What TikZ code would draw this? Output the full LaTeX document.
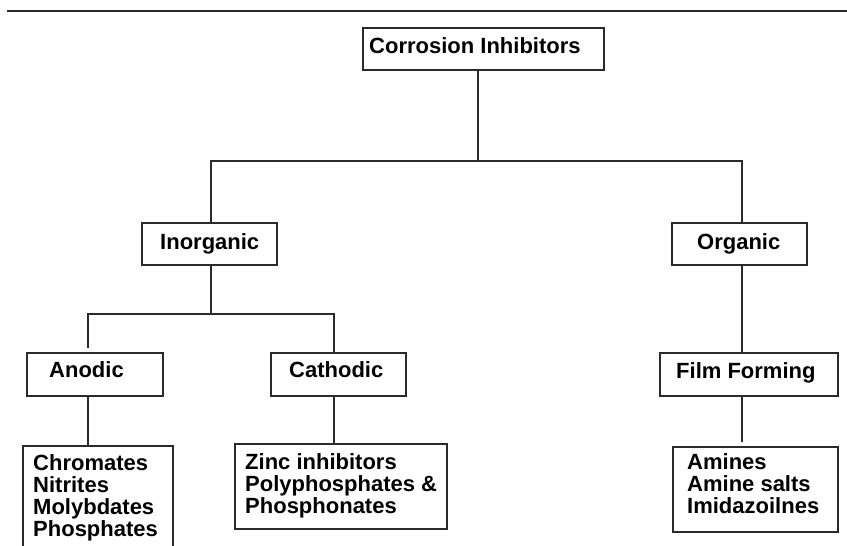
\documentclass[tikz,border=0pt]{standalone}
\usepackage{fontspec}
\setmainfont{Liberation Sans}
\begin{document}
\begin{tikzpicture}[x=1pt,y=-1pt,
  frame/.style={draw=linegray, line width=1.6pt, fill=white, inner sep=0pt, anchor=north west},
  label/.style={inner sep=0pt, anchor=base west, align=left, text=black,
    font=\bfseries\fontsize{22}{22}\selectfont},
  link/.style={draw=linegray, line width=1.5pt}]
\definecolor{linegray}{HTML}{2A2A2A}
\useasboundingbox (0,0) rectangle (847,546);
\clip (0,0) rectangle (847,546);

% rule across the top
\draw[line width=1.9pt, draw=linegray] (7,10.7) -- (847,10.7);

% boxes
\node[frame, minimum width=241, minimum height=42] (ci) at (362,27) {};
\node[frame, minimum width=135, minimum height=42] (inorg) at (141,222) {};
\node[frame, minimum width=135, minimum height=42] (org) at (671,222) {};
\node[frame, minimum width=136, minimum height=43] (anodic) at (26,352) {};
\node[frame, minimum width=135, minimum height=43] (cathodic) at (270,352) {};
\node[frame, minimum width=178, minimum height=43] (film) at (659,352) {};
\node[frame, minimum width=150, minimum height=120] (chrom) at (22,445) {};
\node[frame, minimum width=212, minimum height=85] (zinc) at (234,443) {};
\node[frame, minimum width=165, minimum height=85] (amines) at (672,446) {};

% texts (multi-line labels sit on the baseline of their last line)
\node[label] (ci-t) at (369,53) {Corrosion Inhibitors};
\node[label] (inorg-t) at (160,249) {Inorganic};
\node[label] (org-t) at (697,249) {Organic};
\node[label] (anodic-t) at (49,377) {Anodic};
\node[label] (cathodic-t) at (289,377) {Cathodic};
\node[label] (film-t) at (676,378) {Film Forming};
\node[label] (chrom-t) at (33,536) {Chromates\\Nitrites\\Molybdates\\Phosphates};
\node[label] (zinc-t) at (245,513) {Zinc inhibitors\\Polyphosphates \&\\Phosphonates};
\node[label] (amines-t) at (687,513) {Amines\\Amine salts\\Imidazoilnes};

% branch points
\coordinate (j1) at (478,161);
\coordinate (j2) at (211,314);
\coordinate (xan) at (88,0);
\coordinate (xca) at (334,0);
\coordinate (xor) at (742,0);

% connectors
\draw[link] (ci.south -| j1) -- (j1);
\draw[link] (inorg.north -| j2) |- (j1) -| (org.north -| xor);
\draw[link] (inorg.south -| j2) -- (j2);
\draw[link, shorten <=4pt] (anodic.north -| xan) |- (j2) -| (cathodic.north -| xca);
\draw[link] (anodic.south -| xan) -- (chrom.north -| xan);
\draw[link] (cathodic.south -| xca) -- (zinc.north -| xca);
\draw[link] (org.south -| xor) -- (film.north -| xor);
\draw[link, shorten >=4pt] (film.south -| xor) -- (amines.north -| xor);
\end{tikzpicture}
\end{document}
